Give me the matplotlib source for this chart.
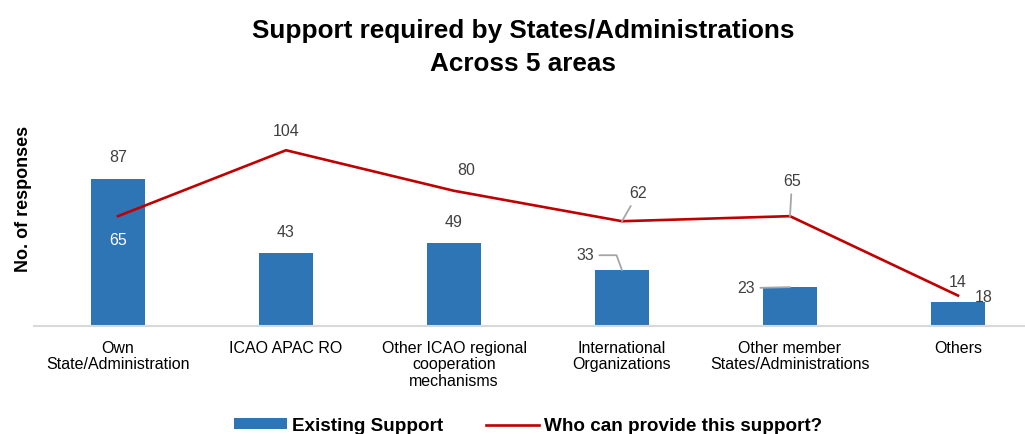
import matplotlib
matplotlib.use("Agg")
import matplotlib.pyplot as plt

plt.rcParams['font.family'] = ['Liberation Sans', 'DejaVu Sans']

categories = ["Own\nState/Administration", "ICAO APAC RO",
              "Other ICAO regional\ncooperation\nmechanisms",
              "International\nOrganizations",
              "Other member\nStates/Administrations", "Others"]
existing_support = [87, 43, 49, 33, 23, 14]
who_can_provide = [65, 104, 80, 62, 65, 18]

BAR_COLOR = "#2E75B6"
LINE_COLOR = "#C00000"
LABEL_COLOR = "#404040"
LEADER_COLOR = "#A6A6A6"

W, H = 1025, 434
fig = plt.figure(figsize=(W / 100, H / 100), dpi=100)
base_px = 326
px_per_unit = 1.69
ymax = 120
ax = fig.add_axes([34 / W, (H - base_px) / H, 1008 / W, ymax * px_per_unit / H])

x = list(range(len(categories)))
bars = ax.bar(x, existing_support, width=0.32, color=BAR_COLOR, zorder=2,
              label="Existing Support")
line, = ax.plot(x, who_can_provide, color=LINE_COLOR, lw=1.9, zorder=3,
                label="Who can provide this support?")

ax.set_xlim(-0.5, 5.5)
ax.set_ylim(0, ymax)
ax.set_yticks([])
ax.set_xticks(x)
ax.set_xticklabels(categories, fontsize=11.5, linespacing=1.13)
ax.tick_params(axis='x', length=0, pad=10.5)
for s in ("top", "right", "left"):
    ax.spines[s].set_visible(False)
ax.spines["bottom"].set_color("#D9D9D9")
ax.spines["bottom"].set_linewidth(1.5)

ax.set_ylabel("No. of responses", fontsize=13, fontweight="bold")
ax.yaxis.set_label_coords(-0.002, 0.626)

# Two-line chart title
fig.text(523 / W, 1 - 38 / H, "Support required by States/Administrations",
         fontsize=18.8, fontweight="bold", ha="center", va="baseline")
fig.text(523 / W, 1 - 71 / H, "Across 5 areas",
         fontsize=18.8, fontweight="bold", ha="center", va="baseline")

lab = dict(fontsize=11.5, color=LABEL_COLOR, ha="center", va="center",
           textcoords="offset pixels")
lead = dict(arrowstyle="-", color=LEADER_COLOR, lw=1.3, shrinkA=2, shrinkB=0)

# Bar value labels: (dx, dy) in pixels from bar top
bar_offsets = [(0, 21), (0, 21), (0, 21), (-37, 15), (-44, -1), (0, 20)]
for i, (v, off) in enumerate(zip(existing_support, bar_offsets)):
    if i == 3:
        ax.annotate(str(v), (i, v), xytext=off,
                    arrowprops=dict(lead, connectionstyle="angle,angleA=0,angleB=110,rad=0"),
                    **lab)
    elif i == 4:
        ax.annotate(str(v), (i, v), xytext=off, arrowprops=dict(lead), **lab)
    else:
        ax.annotate(str(v), (i, v), xytext=off, **lab)

# Line value labels: (dx, dy) in pixels from point
line_offsets = [(0, -24), (0, 19), (12, 20), (16, 28), (2, 35), (26, -2)]
for i, (v, off) in enumerate(zip(who_can_provide, line_offsets)):
    kw = dict(lab)
    if i == 0:
        kw["color"] = "white"
        ax.annotate(str(v), (i, v), xytext=off, **kw)
    elif i in (3, 4):
        ax.annotate(str(v), (i, v), xytext=off, arrowprops=dict(lead), **kw)
    else:
        ax.annotate(str(v), (i, v), xytext=off, **kw)

fig.legend(handles=[bars, line], loc="lower center", ncol=2, frameon=False,
           bbox_to_anchor=(528 / W, -1.5 / H), borderaxespad=0.0, borderpad=0.05,
           prop=dict(weight="bold", size=13.6),
           handlelength=2.8, handleheight=0.5, handletextpad=0.25,
           columnspacing=2.3)

fig.savefig("out.png", dpi=100)
